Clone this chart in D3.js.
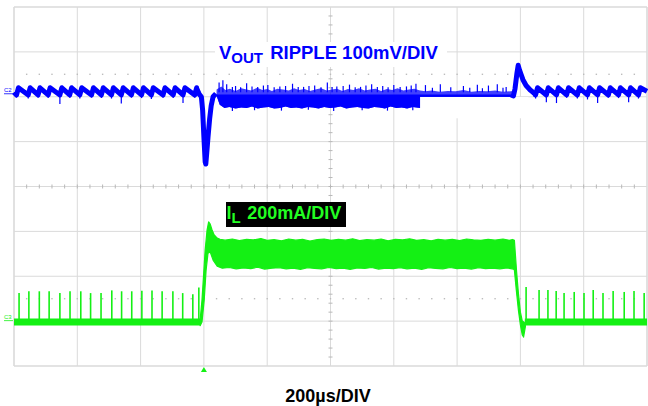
<!DOCTYPE html>
<html>
<head>
<meta charset="utf-8">
<script src="https://cdn.jsdelivr.net/npm/d3@7"></script>
<style>
  body { margin: 0; background: #fff; }
  svg { display: block; font-family: 'Liberation Sans', Arial, sans-serif; }
</style>
</head>
<body>
<div id="container"></div>
<script>
// Scope capture: VOUT ripple (C2, 100mV/div) and inductor current (C3, 200mA/div), 200us/div

//_____ DATA (time in µs from the left edge of the screen) _____
//>>> C2, VOUT ripple, mV
const rippleLeftTeeth = [8, 45, 76, 108, 145, 176, 208, 245, 276, 308, 339, 371, 403, 434, 471, 503, 534, 571];
const rippleLeftDips = [-12, -14, -12, -13, -26, -12, -14, -12, -13, -14, -25, -12, -13, -15, -12, -13, -24, -12];
const rippleRightTeeth = [1648, 1682, 1714, 1746, 1780, 1812, 1844, 1878, 1910, 1942, 1973];
const rippleRightDips = [-14, -22, -24, -12, -14, -16, -24, -12, -13, -22, -14];
const rippleLow = -6;
const rippleHigh = 10;

const vDip = [[577, 9], [585, -4], [592, -10], [596, -40], [600, -100], [604, -155], [606, -160],
  [609, -135], [613, -100], [618, -60], [623, -30], [629, -10], [638, -3]];

const vBandTop = [[640, 6], [655, 13], [668, 5], [682, 8], [700, 3], [718, 9], [735, 6], [750, 4],
  [768, 10], [785, 5], [800, 7], [815, 3], [832, 8], [850, 6], [868, 4], [885, 9], [900, 5], [918, 7],
  [935, 3], [952, 6], [970, 9], [988, 4], [1005, 6], [1020, 8], [1038, 3], [1055, 7], [1072, 5],
  [1090, 9], [1108, 4], [1125, 6], [1142, 8], [1160, 3], [1178, 7], [1195, 5], [1212, 9], [1230, 4],
  [1248, 6], [1265, 8], [1283, 4], [1300, 2], [1320, 4], [1345, 1], [1370, 3], [1395, 2], [1420, 5],
  [1445, 1], [1470, 3], [1495, 2], [1520, 4], [1545, 1], [1578, 3]];
const vBandBottom = [[640, -8], [650, -28], [665, -35], [680, -33], [700, -36], [718, -34], [735, -35],
  [752, -32], [770, -36], [788, -34], [805, -33], [822, -36], [840, -35], [858, -32], [875, -35],
  [892, -34], [910, -36], [928, -33], [945, -34], [962, -36], [980, -33], [998, -35], [1015, -34],
  [1032, -32], [1050, -36], [1068, -34], [1085, -33], [1102, -35], [1120, -36], [1138, -33],
  [1155, -34], [1172, -36], [1190, -32], [1208, -35], [1225, -34], [1242, -36], [1260, -33],
  [1283, -35], [1578, -34]];
const vBandCoreTop = -5;
const vNoiseUp = [[648, 22], [660, 27], [672, 18], [690, 12], [700, 14], [716, 11], [735, 20], [752, 13],
  [770, 12], [788, 15], [802, 16], [822, 11], [840, 13], [858, 14], [880, 19], [898, 12], [915, 12],
  [932, 14], [950, 15], [970, 11], [990, 22], [1005, 12], [1020, 13], [1040, 14], [1060, 17],
  [1078, 11], [1095, 12], [1112, 15], [1130, 18], [1148, 12], [1165, 14], [1182, 11], [1200, 16],
  [1220, 12], [1240, 13], [1255, 15], [1270, 19], [1300, 16], [1322, 10], [1347, 18], [1380, 11],
  [1420, 14], [1440, 10], [1464, 17], [1480, 9], [1499, 15], [1527, 18], [1545, 10], [1555, 12]];
const vNoiseDown = [[690, -42], [760, -40], [845, -41], [930, -39], [1010, -42], [1100, -40], [1180, -41], [1260, -40]];
const vMask = [1283, 1625, -10.5, -58];   // blanked area under the trace: t0, t1, mV top, mV bottom

const vOvershoot = [[1570, -6], [1578, -8], [1583, 8], [1589, 42], [1593, 60], [1597, 50], [1602, 40],
  [1608, 28], [1618, 15], [1631, 5], [1640, 0], [1648, -5]];

//>>> C3, inductor current, mA
const iBaseline = -4;
const iBaseLeft = [0, 590];
const iBaseRight = [1614, 2000];
const iSpikesLeft = [16, 47, 80, 111, 145, 177, 211, 242, 275, 309, 340, 372, 404, 436, 468, 502, 533, 565, 584];
const iSpikesLeftPeak = [125, 133, 133, 133, 125, 133, 133, 125, 125, 137, 133, 133, 135, 137, 133, 133, 125, 120, 150];
const iSpikesRight = [1618, 1659, 1687, 1713, 1738, 1770, 1801, 1830, 1861, 1893, 1928, 1959, 1991];
const iSpikesRightPeak = [152, 139, 139, 134, 125, 130, 125, 139, 125, 134, 130, 134, 125];

const iPlateauTop = [[588, 5], [591, 49], [594, 94], [598, 183], [604, 317], [610, 406], [615, 442],
  [620, 432], [625, 410], [632, 385], [642, 370], [651, 365], [667, 361], [690, 366], [712, 359],
  [735, 364], [756, 362], [780, 368], [800, 360], [822, 363], [845, 358], [868, 366], [890, 361],
  [912, 364], [935, 357], [958, 363], [980, 366], [1002, 360], [1025, 364], [1048, 361], [1070, 367],
  [1092, 359], [1115, 363], [1138, 361], [1160, 366], [1182, 358], [1205, 364], [1228, 362],
  [1250, 367], [1272, 360], [1295, 363], [1318, 358], [1340, 365], [1362, 361], [1385, 364],
  [1408, 359], [1430, 366], [1452, 362], [1475, 360], [1498, 365], [1520, 361], [1545, 366],
  [1565, 360], [1575, 364], [1581, 360], [1584, 300], [1588, 220], [1594, 120], [1600, 40],
  [1606, 0], [1612, -5]];
const iPlateauBottom = [[588, -20], [594, -4], [601, 94], [607, 228], [613, 303], [620, 308], [629, 272],
  [642, 245], [658, 236], [680, 239], [702, 233], [725, 237], [748, 234], [770, 240], [792, 232],
  [815, 236], [838, 238], [860, 233], [882, 236], [905, 231], [928, 238], [950, 235], [972, 233],
  [995, 239], [1018, 234], [1040, 236], [1062, 231], [1085, 237], [1108, 235], [1130, 239],
  [1152, 232], [1175, 236], [1198, 234], [1220, 238], [1242, 233], [1265, 236], [1288, 231],
  [1310, 238], [1332, 235], [1355, 233], [1378, 239], [1400, 234], [1422, 236], [1445, 232],
  [1468, 238], [1490, 234], [1512, 236], [1535, 233], [1558, 237], [1578, 232], [1581, 228],
  [1587, 139], [1594, 45], [1600, -17], [1606, -62], [1610, -71], [1616, -22]];

const triggerTime = 600;

//_____ LAYOUT / STYLE _____
const blue = '#0000ff';
const green = '#14f014';
const gridColor = '#dadada';

const x = d3.scaleLinear().domain([0, 2000]).range([14, 647]);
const yDiv = d3.scaleLinear().domain([0, 8]).range([7, 366]);
const yV = d3.scaleLinear().domain([-610, 190]).range([366, 7]);   // 100 mV/div
const yI = d3.scaleLinear().domain([-200, 1400]).range([366, 7]);  // 200 mA/div

const svg = d3.select('#container').append('svg')
  .attr('width', 648).attr('height', 406);

svg.append('rect').attr('width', 648).attr('height', 406).attr('fill', '#fff');

//_____ GRID _____
const grid = svg.append('g');
grid.selectAll('.vx').data(d3.range(0, 2001, 200)).join('line')
  .attr('x1', d => x(d)).attr('x2', d => x(d))
  .attr('y1', yDiv(0)).attr('y2', yDiv(8))
  .attr('stroke', gridColor).attr('stroke-width', (d, i) => (i === 0 || i === 10) ? 1.6 : 1);
grid.selectAll('.hy').data(d3.range(0, 9)).join('line')
  .attr('x1', x(0)).attr('x2', x(2000))
  .attr('y1', d => yDiv(d)).attr('y2', d => yDiv(d))
  .attr('stroke', gridColor).attr('stroke-width', (d, i) => (i === 0 || i === 8) ? 1.6 : 1);

//>>> centre cross minor ticks
grid.selectAll('.tx').data(d3.range(40, 2000, 40)).join('line')
  .attr('x1', d => x(d)).attr('x2', d => x(d))
  .attr('y1', yDiv(4) - 2).attr('y2', yDiv(4) + 2)
  .attr('stroke', '#b8b8b8');
grid.selectAll('.ty').data(d3.range(0.2, 8, 0.2)).join('line')
  .attr('x1', x(1000) - 2).attr('x2', x(1000) + 2)
  .attr('y1', d => yDiv(d)).attr('y2', d => yDiv(d))
  .attr('stroke', '#b8b8b8');

//>>> dotted rows
[1.5, 6.5].forEach(r => {
  grid.selectAll(null).data(d3.range(40, 2000, 40)).join('rect')
    .attr('x', d => x(d) - 0.7).attr('y', yDiv(r) - 0.7)
    .attr('width', 1.4).attr('height', 1.4)
    .attr('fill', '#bdbdbd');
});

//_____ MASKS BEHIND LABELS / TRACE _____
svg.append('rect').attr('x', 215).attr('y', 42).attr('width', 232).attr('height', 25).attr('fill', '#fff');

//_____ C2 TRACE _____
const lineV = d3.line().x(d => x(d[0])).y(d => yV(d[1]));
const lineI = d3.line().x(d => x(d[0])).y(d => yI(d[1]));

function sawtooth(teeth, start, end) {
  const pts = [start];
  teeth.forEach(t => { pts.push([t, rippleLow], [t + 6, rippleHigh]); });
  if (end) pts.push(end);
  return pts;
}

const vTrace = svg.append('g');

//>>> noisy band
vTrace.append('path')
  .attr('d', lineV(vBandTop.concat(vBandBottom.slice().reverse())) + 'Z')
  .attr('fill', blue).attr('opacity', 0.75);
vTrace.append('path')
  .attr('d', lineV(vBandTop.map(d => [d[0], vBandCoreTop]).concat(vBandBottom.slice().reverse())) + 'Z')
  .attr('fill', blue);
vTrace.selectAll('.nu').data(vNoiseUp).join('line')
  .attr('x1', d => x(d[0])).attr('x2', d => x(d[0]))
  .attr('y1', yV(0)).attr('y2', d => yV(d[1]))
  .attr('stroke', blue).attr('stroke-width', 1.2);
vTrace.selectAll('.nd').data(vNoiseDown).join('line')
  .attr('x1', d => x(d[0])).attr('x2', d => x(d[0]))
  .attr('y1', yV(-30)).attr('y2', d => yV(d[1]))
  .attr('stroke', blue).attr('stroke-width', 1.2);

//>>> blanked region under the band
svg.append('rect')
  .attr('x', x(vMask[0])).attr('y', yV(vMask[2]))
  .attr('width', x(vMask[1]) - x(vMask[0])).attr('height', yV(vMask[3]) - yV(vMask[2]))
  .attr('fill', '#fff');

//>>> ripple + load step transients
const vPaths = [
  sawtooth(rippleLeftTeeth, [0, 0]).concat(vDip),
  vOvershoot,
  sawtooth(rippleRightTeeth, [1648, -5], [2000, 2])
];
svg.selectAll('.vp').data(vPaths).join('path')
  .attr('d', d => lineV(d))
  .attr('fill', 'none').attr('stroke', blue)
  .attr('stroke-width', 5).attr('stroke-linejoin', 'round');

const dips = rippleLeftTeeth.map((t, i) => [t, rippleLeftDips[i]])
  .concat(rippleRightTeeth.map((t, i) => [t, rippleRightDips[i]]));
svg.selectAll('.dp').data(dips).join('line')
  .attr('x1', d => x(d[0])).attr('x2', d => x(d[0]))
  .attr('y1', yV(rippleLow)).attr('y2', d => yV(d[1]))
  .attr('stroke', blue).attr('stroke-width', 1.2);

//_____ C3 TRACE _____
svg.selectAll('.ib').data([iBaseLeft, iBaseRight]).join('line')
  .attr('x1', d => x(d[0])).attr('x2', d => x(d[1]))
  .attr('y1', yI(iBaseline)).attr('y2', yI(iBaseline))
  .attr('stroke', green).attr('stroke-width', 7);

const spikes = iSpikesLeft.map((t, i) => [t, iSpikesLeftPeak[i]])
  .concat(iSpikesRight.map((t, i) => [t, iSpikesRightPeak[i]]));
svg.selectAll('.is').data(spikes).join('line')
  .attr('x1', d => x(d[0])).attr('x2', d => x(d[0]))
  .attr('y1', yI(iBaseline)).attr('y2', d => yI(d[1]))
  .attr('stroke', green).attr('stroke-width', 1.6);

svg.append('path')
  .attr('d', lineI(iPlateauTop.concat(iPlateauBottom.slice().reverse())) + 'Z')
  .attr('fill', green).attr('stroke', green).attr('stroke-width', 1.2).attr('stroke-linejoin', 'round');

//_____ MARKERS _____
const tx = x(triggerTime);
svg.append('path')
  .attr('d', `M${tx},${yDiv(8) + 1} L${tx - 3},${yDiv(8) + 6} L${tx + 3},${yDiv(8) + 6} Z`)
  .attr('fill', green);

[[yV(0), 'C2', blue], [yI(0) - 2, 'C3', green]].forEach(([y, label, c]) => {
  svg.append('text').attr('x', 4).attr('y', y).attr('fill', c)
    .style('font-size', '6px').text(label);
  svg.append('line').attr('x1', 4).attr('x2', 13).attr('y1', y + 1.5).attr('y2', y + 1.5)
    .attr('stroke', c).attr('stroke-width', 0.8);
});

//_____ LABELS _____
const vLabel = svg.append('text')
  .attr('x', 219).attr('y', 59)
  .attr('fill', blue).style('font-weight', 'bold').style('font-size', '18.5px');
vLabel.append('tspan').text('V');
vLabel.append('tspan').attr('dy', 4).style('font-size', '15px').text('OUT');
vLabel.append('tspan').attr('dy', -4).attr('dx', 2).text(' RIPPLE 100mV/DIV');

svg.append('rect').attr('x', 226).attr('y', 202).attr('width', 120).attr('height', 25).attr('fill', '#000');
const iLabel = svg.append('text')
  .attr('x', 226.5).attr('y', 219)
  .attr('fill', '#22ff22').style('font-weight', 'bold').style('font-size', '18px');
iLabel.append('tspan').text('I');
iLabel.append('tspan').attr('dy', 4).style('font-size', '15px').text('L');
iLabel.append('tspan').attr('dy', -4).attr('dx', 1.5).text(' 200mA/DIV');

svg.append('text')
  .attr('x', 328).attr('y', 402)
  .attr('text-anchor', 'middle')
  .style('font-weight', 'bold').style('font-size', '18px').attr('fill', '#000')
  .text('200µs/DIV');
</script>
</body>
</html>
